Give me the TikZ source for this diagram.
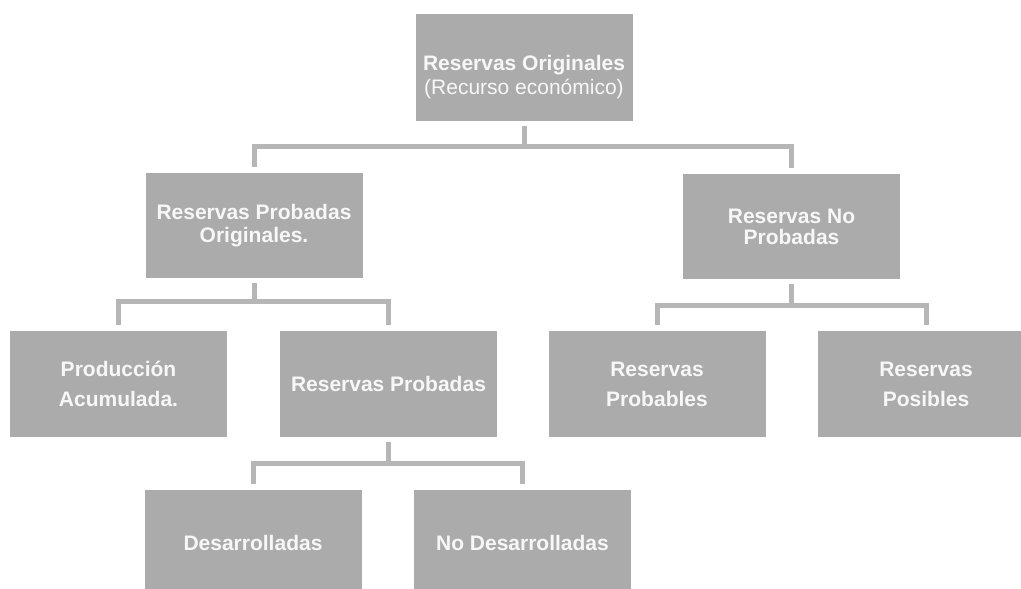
\documentclass[tikz,border=0pt]{standalone}
\usepackage{fontspec}
\setmainfont{Liberation Sans}
\definecolor{boxgray}{HTML}{ABABAB}
\definecolor{linegray}{HTML}{B6B6B6}
\definecolor{txt}{HTML}{F7F7F7}
\begin{document}
\begin{tikzpicture}[x=1pt,y=-1pt,
  box/.style={rectangle, fill=boxgray, draw=none, inner sep=0pt,
    minimum width=217pt, minimum height=106pt, align=center,
    text=txt, font=\bfseries\fontsize{21}{24}\selectfont},
  conn/.style={draw=linegray, line width=5pt, line join=miter,
    shorten <=5pt, shorten >=6pt}]
\useasboundingbox (0,0) rectangle (1021,589);
\clip (0,0) rectangle (1021,589);
\fill[white] (0,0) rectangle (1021,589);

\node[box, minimum height=107pt] (top) at (524,67.5)
  {\rule{0pt}{34pt}Reservas Originales\\{\mdseries(Recurso económico)}};
\node[box, minimum height=105pt] (rpo) at (254,225.5) {Reservas Probadas\\[-1pt]Originales.};
\node[box, minimum height=105pt] (rnp) at (791.5,226.5) {Reservas No\\[-3pt]Probadas};
\node[box] (prod) at (118.5,384) {Producción\\[6pt]Acumulada.};
\node[box] (rp) at (388.5,384) {Reservas Probadas};
\node[box] (rprob) at (657,384) {Reservas\\[6pt]Probables};
\node[box] (rpos) at (926,384) {Reservas\\[6pt]Posibles};
\node[box] (des) at (253,543) {Desarrolladas};
\node[box] (nodes) at (522.5,543) {No Desarrolladas};

\draw[conn] (top.south) -- ++(0,25) -| (rpo.north);
\draw[conn] (top.south) -- ++(0,25) -| (rnp.north);
\draw[conn] (rpo.south) -- ++(0,23) -| (prod.north);
\draw[conn] (rpo.south) -- ++(0,23) -| (rp.north);
\draw[conn] (rnp.south) -- ++(0,26) -| (rprob.north);
\draw[conn] (rnp.south) -- ++(0,26) -| (rpos.north);
\draw[conn] (rp.south) -- ++(0,26) -| (des.north);
\draw[conn] (rp.south) -- ++(0,26) -| (nodes.north);
\end{tikzpicture}
\end{document}
